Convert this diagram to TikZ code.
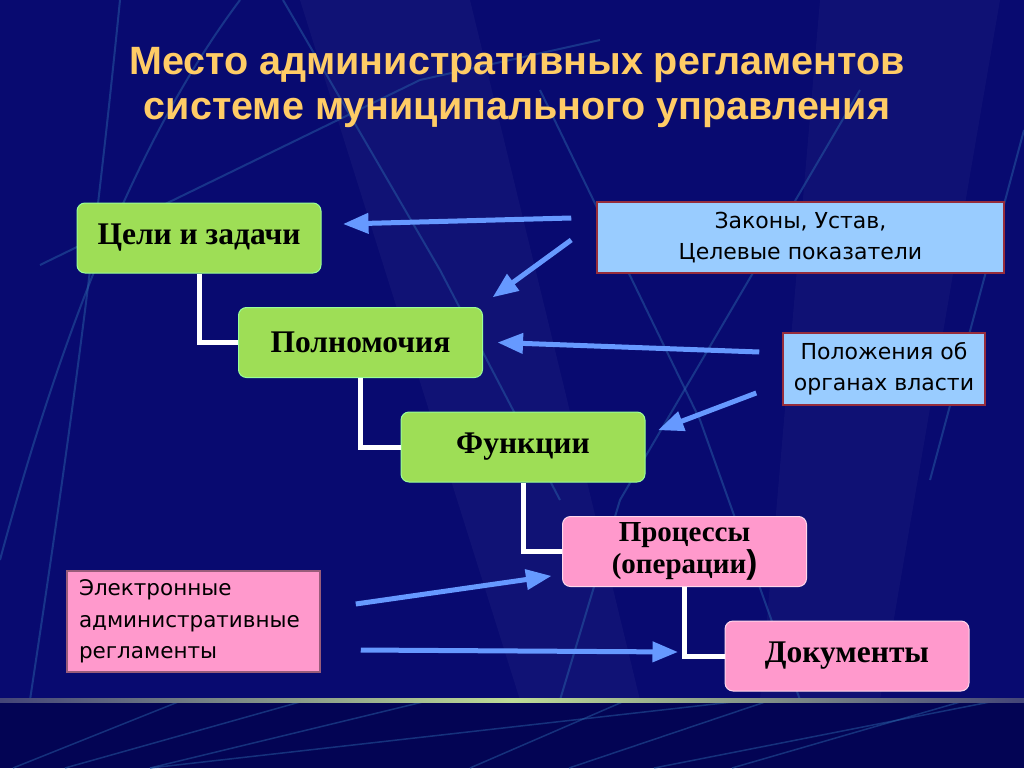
\documentclass[tikz,border=0pt]{standalone}
\usepackage{fontspec}
\setmainfont{Liberation Serif}
\newfontfamily\titleFont{Liberation Sans}
\newfontfamily\noteFont{DejaVu Sans}
\usepackage{tikz}
\usetikzlibrary{shapes,arrows}

\begin{document}
\begin{tikzpicture}[x=1pt,y=-1pt,
  stepBox/.style={draw=white!60!green, line width=1pt, rounded corners=8pt, minimum width=244pt, minimum height=70pt, inner sep=0pt, font=\bfseries\fontsize{31.5}{33}\selectfont, align=center, text=black},
  greenBox/.style={stepBox, fill=boxGreen},
  pinkBox/.style={stepBox, fill=boxPink, draw=white!60!boxPink},
  noteBox/.style={draw=noteBorder, line width=1.5pt, fill=boxBlue, inner sep=0pt, align=center, text=black, font=\noteFont\fontsize{22}{31}\selectfont},
  treeLine/.style={draw=white, line width=5pt},
  blueArrow/.style={->, >=triangle 45, line width=5pt, color=arrowColor},
  bgLine/.style={color=bgLineColor, line width=2pt, opacity=0.5}]
\definecolor{bgColor}{RGB}{8,10,112}
\definecolor{bgLow}{RGB}{3,4,84}
\definecolor{bgLineColor}{RGB}{40,95,165}
\definecolor{titleColor}{RGB}{255,204,102}
\definecolor{boxGreen}{RGB}{158,222,86}
\definecolor{boxPink}{RGB}{255,153,204}
\definecolor{boxBlue}{RGB}{153,204,255}
\definecolor{noteBorder}{RGB}{150,45,60}
\definecolor{arrowColor}{RGB}{102,153,255}
\definecolor{lineGreen}{RGB}{190,220,150}
\useasboundingbox (0,0) rectangle (1024,768);
\fill[bgColor] (0,0) rectangle (1024,700);
\fill[bgLow] (0,700) rectangle (1024,768);
\fill[white, opacity=0.035] (300,0) -- (470,0) -- (640,700) -- (520,700) -- cycle;
\fill[white, opacity=0.03] (820,0) -- (1000,0) -- (880,700) -- (760,700) -- cycle;
\draw[bgLine] (0,560) .. controls (70,300) and (150,120) .. (240,0);
\draw[bgLine] (40,265) -- (420,80) -- (600,40);
\draw[bgLine] (283,0) -- (440,270) -- (560,500);
\draw[bgLine] (540,90) -- (700,420) -- (800,700);
\draw[bgLine] (860,90) -- (620,500) -- (560,700);
\draw[bgLine] (1024,130) -- (930,480);
\draw[bgLine] (120,0) .. controls (90,300) and (60,500) .. (30,700);
\foreach \xa/\xb in {13/183,65/307,150/431,150/750,470/627,569/771,654/1000,732/967}
  \draw[bgLine, line width=1.5pt] (\xa,768) -- (\xb,700);
\shade[left color=gray!50!bgColor, right color=gray!50!bgColor, middle color=lineGreen] (0,698.5) rectangle (1024,702.5);

\node[text=titleColor, font=\titleFont\bfseries\fontsize{39.5}{45}\selectfont, align=center] (title) at (517,88) {Место административных регламентов\\системе муниципального управления};

\node[greenBox] (celi) at (199,238) {Цели и задачи};
\node[greenBox] (poln) at (360.5,342.5) {Полномочия};
\node[greenBox] (funk) at (523,447) {Функции};
\node[pinkBox, font=\bfseries\fontsize{29}{35}\selectfont] (proc) at (684.5,551.5) {\raisebox{-3pt}{Процессы}\\(операции{\titleFont\fontsize{33}{33}\selectfont)}};
\node[pinkBox] (doc) at (847,656) {Документы};
\node[noteBox, minimum width=407pt, minimum height=71pt] (zakony) at (800.5,237.5) {Законы, Устав,\\Целевые показатели};
\node[noteBox, minimum width=202pt, minimum height=72pt] (polozh) at (884,369) {Положения об\\органах власти};
\node[noteBox, fill=boxPink, draw=boxPink!60!black, minimum width=253pt, minimum height=101pt, text width=229pt, align=left, font=\noteFont\fontsize{21.5}{31.5}\selectfont] (elektr) at (193.5,621.5) {Электронные\\административные\\регламенты};

\draw[treeLine] (celi.south) |- (poln.west);
\draw[treeLine] (poln.south) |- (funk.west);
\draw[treeLine] (funk.south) |- (proc.west);
\draw[treeLine] (proc.south) |- (doc.west);

\draw[blueArrow] ([xshift=-25pt,yshift=19.5pt]zakony.west) -- ([xshift=22pt,yshift=14pt]celi.east);
\draw[blueArrow] ([xshift=-25pt,yshift=-2.5pt]zakony.west) -- ([xshift=10pt,yshift=10pt]poln.north east);
\draw[blueArrow] ([xshift=-23pt,yshift=17pt]polozh.west) -- ([xshift=15pt]poln.east);
\draw[blueArrow] ([xshift=-26pt,yshift=-24pt]polozh.west) -- ([xshift=13pt,yshift=17pt]funk.east);
\draw[blueArrow] ([xshift=35pt,yshift=17.5pt]elektr.east) -- ([xshift=-11pt,yshift=-24.5pt]proc.west);
\draw[blueArrow] ([xshift=40pt,yshift=-28.5pt]elektr.east) -- ([xshift=-47pt,yshift=4pt]doc.west);
\end{tikzpicture}
\end{document}
